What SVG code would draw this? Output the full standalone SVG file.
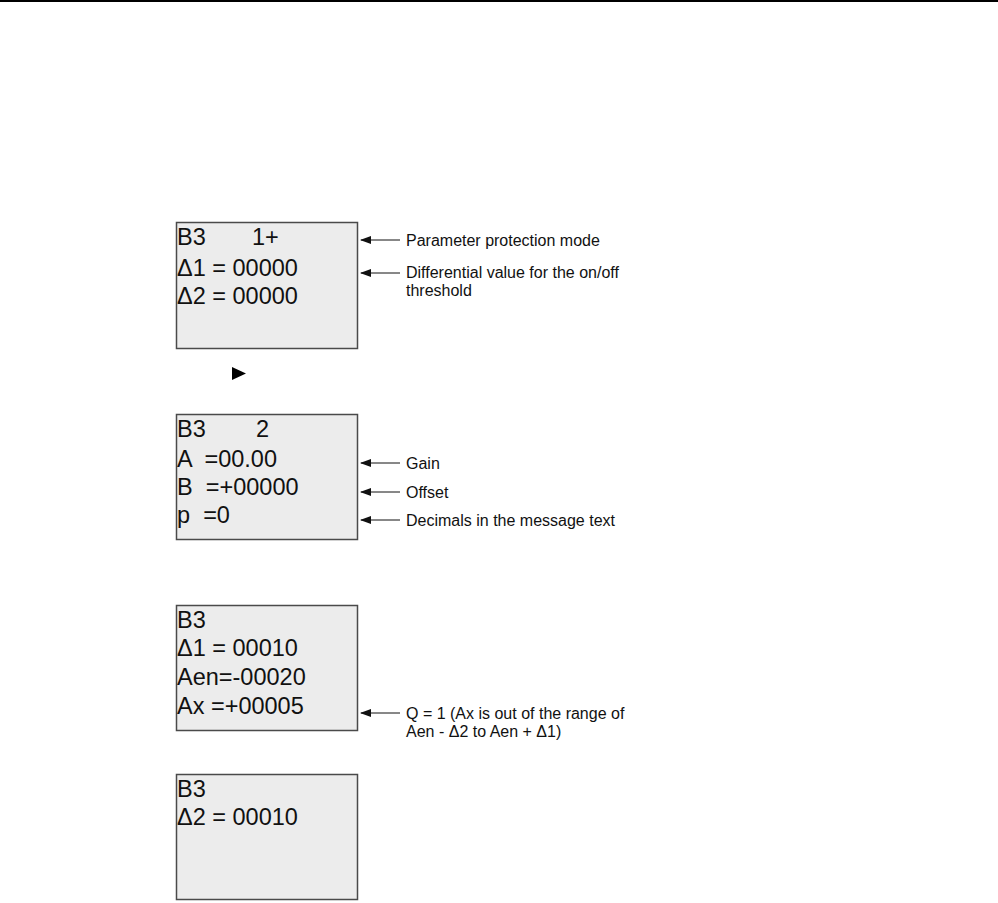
<svg xmlns="http://www.w3.org/2000/svg" width="998" height="903" viewBox="0 0 998 903">
<style>
.box{fill:#ececec;stroke:#4a4a4a;stroke-width:1.5}
.lcd{font-family:"Liberation Sans",Arial,sans-serif;font-size:23.5px;fill:#111;white-space:pre}
.ann{font-family:"Liberation Sans",Arial,sans-serif;font-size:16px;fill:#111}
.con{stroke:#111;stroke-width:1;fill:none;marker-start:url(#ah)}
</style>
<defs>
<marker id="ah" markerWidth="12" markerHeight="9" refX="1" refY="4.5" orient="auto" markerUnits="userSpaceOnUse">
<path d="M0,4.5 L11,0.5 L11,8.5 Z" fill="#111"/>
</marker>
</defs>
<rect x="0" y="0" width="998" height="2" fill="#000"/>
<g id="screen1">
<rect class="box" x="176.5" y="222.5" width="181" height="126"/>
<text class="lcd" x="177" y="245">B3</text>
<text class="lcd" x="252" y="245">1+</text>
<text class="lcd" x="177" y="276">Δ1 = 00000</text>
<text class="lcd" x="177" y="304">Δ2 = 00000</text>
</g>
<g id="next">
<path d="M232,367 L246,373.5 L232,380 Z" fill="#000"/>
</g>
<g id="screen2">
<rect class="box" x="176.5" y="414.5" width="181" height="125"/>
<text class="lcd" x="177" y="437">B3</text>
<text class="lcd" x="256" y="437">2</text>
<text class="lcd" x="177" y="467" xml:space="preserve">A  =00.00</text>
<text class="lcd" x="177" y="495" xml:space="preserve">B  =+00000</text>
<text class="lcd" x="177" y="523" xml:space="preserve">p  =0</text>
</g>
<g id="screen3">
<rect class="box" x="176.5" y="605.5" width="181" height="125"/>
<text class="lcd" x="177" y="628">B3</text>
<text class="lcd" x="177" y="656">Δ1 = 00010</text>
<text class="lcd" x="177" y="685">Aen=-00020</text>
<text class="lcd" x="177" y="714">Ax =+00005</text>
</g>
<g id="screen4">
<rect class="box" x="176.5" y="774.5" width="181" height="125"/>
<text class="lcd" x="177" y="797">B3</text>
<text class="lcd" x="177" y="825">Δ2 = 00010</text>
</g>
<g id="connectors">
<line class="con" x1="361" y1="240" x2="400" y2="240"/>
<line class="con" x1="361" y1="273" x2="400" y2="273"/>
<line class="con" x1="361" y1="463" x2="400" y2="463"/>
<line class="con" x1="361" y1="492" x2="400" y2="492"/>
<line class="con" x1="361" y1="520" x2="400" y2="520"/>
<line class="con" x1="361" y1="713" x2="400" y2="713"/>
</g>
<g id="labels">
<text class="ann" x="406" y="246">Parameter protection mode</text>
<text class="ann" x="406" y="278">Differential value for the on/off</text>
<text class="ann" x="406" y="296">threshold</text>
<text class="ann" x="406" y="469">Gain</text>
<text class="ann" x="406" y="498">Offset</text>
<text class="ann" x="406" y="526">Decimals in the message text</text>
<text class="ann" x="406" y="719">Q = 1 (Ax is out of the range of</text>
<text class="ann" x="406" y="737">Aen - Δ2 to Aen + Δ1)</text>
</g>
</svg>
